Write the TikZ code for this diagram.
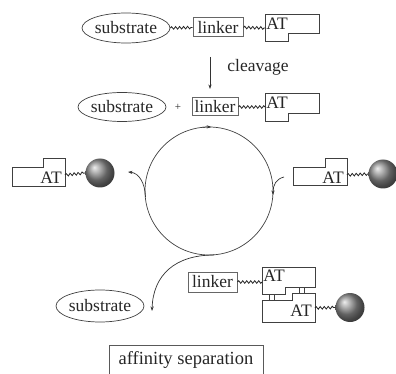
\documentclass[tikz,border=0pt]{standalone}
\usepackage{fontspec}
\setmainfont{Liberation Serif}
\newfontfamily\tnr{Liberation Serif}
\usetikzlibrary{shapes.geometric,decorations.pathmorphing,arrows.meta}
\begin{document}
\begin{tikzpicture}[x=1pt,y=-1pt,
  line/.style={draw=black!75, line width=0.7pt},
  txt/.style={font=\tnr\fontsize{17.5}{20}\selectfont, text=black!85},
  sub/.style={ellipse, draw=black!75, line width=0.7pt, inner sep=0pt, txt},
  lbox/.style={rectangle, draw=black!60, line width=1pt, inner sep=0pt, txt},
  attext/.style={inner sep=0pt, txt},
  wave/.style={draw=black!85, line width=0.8pt, decorate, decoration={snake, amplitude=1.3pt, segment length=4pt}},
  ball/.style={circle, minimum size=29pt, inner sep=0pt, shading=ball, ball color=black!45},
  arr/.style={draw=black!80, line width=0.7pt, -{Stealth[length=4.5pt,width=3.2pt]}},
]
\useasboundingbox (0,0) rectangle (396,374);

% ---- row 1
\node[sub, minimum width=83pt, minimum height=30pt] (sub1) at (126,28) {substrate};
\node[lbox, minimum width=50pt, minimum height=19pt] (lk1) at (218,27.5) {linker};
\draw[line] (265,14) -- (319,14) -- (319,33) -- (288,33) -- (288,41) -- (265,41) -- cycle;
\node[attext] (at1) at (277,23.5) {AT};
\coordinate (at1w) at (265,28);
\draw[wave] (sub1.east) -- (lk1.west);
\draw[wave] (lk1.east) -- (at1w);

% ---- cleavage
\coordinate (cv1) at (210,57);
\coordinate (cv2) at (210,89);
\draw[arr] (cv1) -- (cv2);
\node[txt, inner sep=0pt] (cleav) at (258,67) {cleavage};

% ---- row 2
\node[sub, minimum width=75pt, minimum height=29pt] (sub2) at (122,107) {substrate};
\node[inner sep=0pt, font=\tnr\fontsize{11}{12}\selectfont, text=black!85] (plus) at (178,107.5) {+};
\node[lbox, minimum width=46pt, minimum height=18pt] (lk2) at (215,107) {linker};
\draw[line] (265,93) -- (319,93) -- (319,113) -- (288,113) -- (288,121) -- (265,121) -- cycle;
\node[attext] (at2) at (277,102.5) {AT};
\coordinate (at2w) at (265,107);
\draw[wave] (lk2.east) -- (at2w);

% ---- cycle
\draw[line] (209,191) circle[radius=64];
\draw[arr] (209,191) ++(-96:64) arc[start angle=-96, end angle=-88, radius=64];

% right incoming
\coordinate (rin) at (284,177);
\coordinate (rend) at (273,195);
\draw[arr] (rin) .. controls (276,179) and (273,185) .. (rend);

% left outgoing
\coordinate (lout0) at (145.5,197);
\coordinate (lout) at (128,172);
\draw[arr] (lout0) .. controls (145,183) and (139,173) .. (lout);

% bottom outgoing
\coordinate (bstart) at (214,255);
\coordinate (bend) at (152,311);
\draw[arr] (bstart) .. controls (175,255) and (153,275) .. (bend);

% ---- left item
\draw[line] (12,167) -- (43,167) -- (43,158) -- (65,158) -- (65,186) -- (12,186) -- cycle;
\node[attext] (at3) at (51,177.5) {AT};
\coordinate (at3e) at (65,175);
\node[ball] (ball1) at (100,173) {};
\draw[wave] (at3e) -- (ball1.west);

% ---- right item
\draw[line] (293,167) -- (325,167) -- (325,158) -- (347,158) -- (347,185) -- (293,185) -- cycle;
\node[attext] (at4) at (333,177.5) {AT};
\coordinate (at4e) at (347,175);
\node[ball] (ball2) at (383,174) {};
\draw[wave] (at4e) -- (ball2.west);

% ---- bottom complex
\node[sub, minimum width=85pt, minimum height=32pt] (sub3) at (100,306) {substrate};
\node[lbox, minimum width=49pt, minimum height=20pt] (lk3) at (212.5,282) {linker};
\draw[line] (262,267) -- (315,267) -- (315,287) -- (285,287) -- (285,294) -- (262,294) -- cycle;
\node[attext] (at5) at (274,276) {AT};
\coordinate (at5w) at (262,282);
\draw[wave] (lk3.east) -- (at5w);
\draw[line] (262,300) -- (292,300) -- (292,293) -- (315,293) -- (315,322) -- (262,322) -- cycle;
\node[attext] (at6) at (301,311) {AT};
% hydrogen-bond marks
\draw[line] (269,294) -- (269,300) (274,294) -- (274,300);
\draw[line] (299,287) -- (299,293) (304,287) -- (304,293);
\coordinate (at6e) at (315,308);
\node[ball] (ball3) at (350,307.5) {};
\draw[wave] (at6e) -- (ball3.west);

% ---- affinity separation
\node[rectangle, draw=black!65, line width=0.8pt, inner sep=0pt, minimum width=154pt, minimum height=32pt] (aff) at (186,361) {};
\node[inner sep=0pt, font=\tnr\fontsize{18.5}{20}\selectfont, text=black!85] (afftxt) at (186,360) {affinity separation};
\end{tikzpicture}
\end{document}
